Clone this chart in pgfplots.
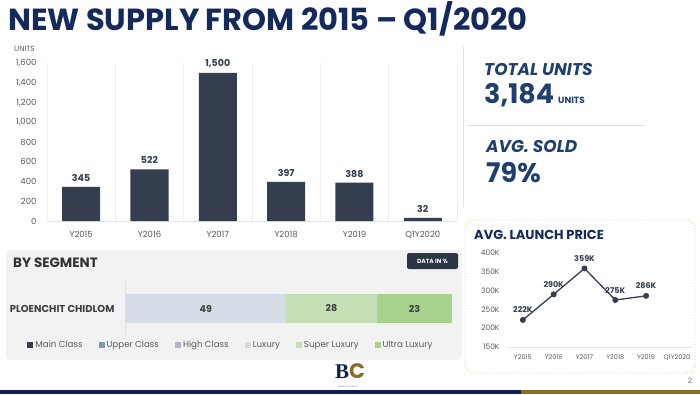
\documentclass[border=0pt]{standalone}
\usepackage{fontspec}
\setmainfont{Poppins}
\newfontfamily\serifB{Liberation Serif}
\usepackage{pgfplots}
\pgfplotsset{compat=1.18}
\definecolor{navy}{HTML}{14295C}
\definecolor{steel}{HTML}{1F3F6E}
\definecolor{barcol}{HTML}{343E4E}
\definecolor{labgray}{HTML}{595959}
\definecolor{panelbg}{HTML}{F2F2F2}
\definecolor{lux}{HTML}{D6DCE5}
\definecolor{slux}{HTML}{C5E0B4}
\definecolor{ulux}{HTML}{A9D18E}
\definecolor{mainc}{HTML}{333F50}
\definecolor{upperc}{HTML}{8497B0}
\definecolor{highc}{HTML}{ADB9CA}
\definecolor{gold}{HTML}{8C6D1F}
\definecolor{stripnavy}{HTML}{0E1F4F}
\definecolor{dotc}{HTML}{E3D79A}
\newcommand{\fs}[1]{\fontsize{#1}{#1}\selectfont}
\begin{document}
\begin{tikzpicture}
% page
\fill[white] (0pt,0pt) rectangle (700pt,394pt);
\clip (0pt,0pt) rectangle (700pt,394pt);
% title
\node[anchor=base west, inner sep=0, text=navy, font=\fs{30.5}\bfseries] at (8pt,363pt) {NEW SUPPLY FROM 2015 -- Q1/2020};
\node[anchor=base west, inner sep=0, text=labgray, font=\fs{7.5}] at (14pt,342pt) {UNITS};

% main bar chart
\begin{axis}[at={(47pt,173pt)}, anchor=south west, scale only axis, width=410pt, height=158pt,
  xmin=-0.5, xmax=5.5, ymin=0, ymax=1600,
  ytick={0,200,...,1600}, xtick={0,...,5},
  xticklabels={Y2015,Y2016,Y2017,Y2018,Y2019,Q1Y2020},
  minor xtick={-0.5,0.5,...,5.5}, xminorgrids,
  minor grid style={draw=black!7, line width=0.6pt},
  axis line style={draw=none}, major tick length=0pt, minor tick length=0pt,
  extra y ticks={0}, extra y tick labels={},
  extra y tick style={ymajorgrids, major grid style={draw=black!10, line width=0.8pt}},
  yticklabel style={font=\fs{8.5}, text=labgray, xshift=-7pt},
  xticklabel style={font=\fs{8.5}, text=labgray, yshift=-7pt},
  /pgf/number format/.cd, 1000 sep={,}, assume math mode=true, /pgfplots/.cd,
  ybar, bar width=38pt,
  nodes near coords,
  nodes near coords style={font=\fs{9.5}\bfseries, text=barcol, /pgf/number format/1000 sep={,}, /pgf/number format/assume math mode=true, yshift=2pt},
  clip=false]
\addplot[fill=barcol, draw=none] coordinates {(0,345) (1,522) (2,1500) (3,397) (4,388) (5,32)};
\end{axis}

% right KPI panel
\draw[black!12, line width=0.7pt] (463pt,347pt) -- (463pt,187pt);
\draw[black!12, line width=0.7pt] (467pt,269pt) -- (645pt,269pt);
\node[anchor=base west, inner sep=0, text=steel, font=\fs{17}\bfseries\itshape] at (484pt,318pt) {TOTAL UNITS};
\node[anchor=base west, inner sep=0, text=steel, font=\fs{27}\bfseries] at (484pt,290pt) {3,184};
\node[anchor=base west, inner sep=0, text=steel, font=\fs{9}\bfseries] at (558pt,290pt) {UNITS};
\node[anchor=base west, inner sep=0, text=steel, font=\fs{17}\bfseries\itshape] at (486pt,241pt) {AVG. SOLD};
\node[anchor=base west, inner sep=0, text=steel, font=\fs{27}\bfseries] at (486pt,212pt) {79\%};

% segment panel
\fill[panelbg, rounded corners=4pt] (6pt,34pt) rectangle (462pt,144pt);
\node[anchor=base west, inner sep=0, text=black!80, font=\fs{13.5}\bfseries] at (13pt,127pt) {BY SEGMENT};
\fill[barcol!85!black, rounded corners=2pt] (407pt,125pt) rectangle (458pt,141pt);
\node[text=white, font=\fs{6}\bfseries, inner sep=0] at (432.5pt,133pt) {DATA IN \%};
\draw[black!12, line width=0.7pt] (125pt,112pt) -- (125pt,59pt);

\begin{axis}[at={(126pt,71pt)}, anchor=south west, scale only axis, width=326pt, height=29pt,
  xmin=0, xmax=100, ymin=-0.5, ymax=0.5,
  xbar stacked, bar width=29pt,
  axis line style={draw=none}, major tick length=0pt,
  xtick=\empty, ytick={0}, yticklabels={PLOENCHIT CHIDLOM},
  yticklabel style={font=\fs{10}\bfseries, text=black!75, xshift=-8pt},
  legend columns=6,
  legend style={at={(0.322,-0.76)}, anchor=center, draw=none, fill=none,
    font=\fs{8.7}, text=labgray, inner sep=0pt,
    /tikz/every even column/.append style={column sep=14pt}},
  legend image code/.code={\fill[#1] (0pt,-3pt) rectangle (6pt,3pt);},
  clip=false]
\addplot[fill=mainc, draw=none] coordinates {(0,0)};
\addplot[fill=upperc, draw=none] coordinates {(0,0)};
\addplot[fill=highc, draw=none] coordinates {(0,0)};
\addplot[fill=lux, draw=none] coordinates {(49,0)};
\addplot[fill=slux, draw=none] coordinates {(28,0)};
\addplot[fill=ulux, draw=none] coordinates {(23,0)};
\legend{Main Class, Upper Class, High Class, Luxury, Super Luxury, Ultra Luxury}
\end{axis}
% segment value labels (centred in each segment)
\begin{axis}[at={(126pt,71pt)}, anchor=south west, scale only axis, width=326pt, height=29pt,
  xmin=0, xmax=100, ymin=-0.5, ymax=0.5, hide axis, clip=false]
\addplot[draw=none, mark=none, nodes near coords, point meta=explicit symbolic,
  nodes near coords style={anchor=center, font=\fs{9.5}\bfseries, text=black!75}]
  coordinates {(24.5,0) [49] (63,0) [28] (88.5,0) [23]};
\end{axis}

% launch price panel
\draw[dotc, dotted, line width=0.9pt, rounded corners=9pt] (465pt,21pt) rectangle (695pt,174pt);
\node[anchor=base west, inner sep=0, text=navy, font=\fs{13}\bfseries] at (474pt,155pt) {AVG. LAUNCH PRICE};
\begin{axis}[at={(509pt,47pt)}, anchor=south west, scale only axis, width=183pt, height=94pt,
  xmin=-0.45, xmax=5.49, ymin=150, ymax=400,
  ytick={150,200,...,400}, yticklabels={150K,200K,250K,300K,350K,400K},
  xtick={0,...,5}, xticklabels={Y2015,Y2016,Y2017,Y2018,Y2019,Q1Y2020},
  axis line style={draw=none}, major tick length=0pt,
  extra y ticks={150}, extra y tick labels={},
  extra y tick style={ymajorgrids, major grid style={draw=black!10, line width=0.8pt}},
  yticklabel style={font=\fs{7.5}, text=labgray, xshift=-6pt},
  xticklabel style={font=\fs{6.5}, text=labgray, yshift=-4pt},
  clip=false]
\addplot[color=barcol, line width=1.3pt, mark=*, mark size=2.3pt,
  nodes near coords, point meta=explicit symbolic,
  nodes near coords style={font=\fs{8}\bfseries, text=barcol, yshift=3pt}]
  coordinates {(0,222) [222K] (1,290) [290K] (2,359) [359K] (3,275) [275K] (4,286) [286K]};
\end{axis}

% logo
\node[anchor=base west, inner sep=0, font=\fs{21}\bfseries] at (335pt,16pt)
  {\textcolor{stripnavy}{\serifB B}\textcolor{gold}{C}};
\node[inner sep=0, text=black!50, font=\fs{2}] at (348pt,7pt) {BANGKOK CITISMART};
% page number
\node[text=black!55, font=\fs{7.5}, inner sep=0] at (690pt,13pt) {2};
% bottom strip
\fill[stripnavy] (0pt,0pt) rectangle (521pt,4.5pt);
\fill[gold] (521pt,0pt) rectangle (700pt,4.5pt);
\end{tikzpicture}
\end{document}
